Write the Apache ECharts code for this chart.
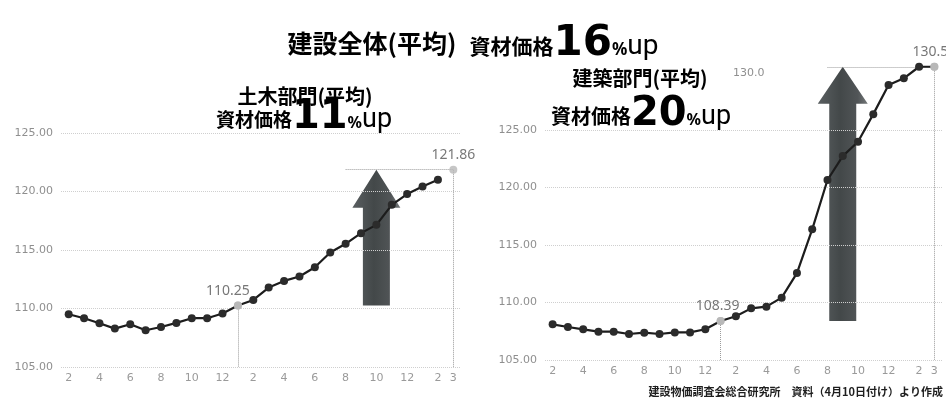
<!DOCTYPE html>
<html><head><meta charset="utf-8">
<script src="https://cdn.jsdelivr.net/npm/echarts@6/dist/echarts.min.js"></script>
<style>html,body{margin:0;padding:0;background:#fff}#c{width:946px;height:401px}</style>
</head><body><div id="c"></div>
<script>
// ---- data ----
const months = ['2','3','4','5','6','7','8','9','10','11','12','1','2','3','4','5','6','7','8','9','10','11','12','1','2','3'];
const yTicks = [105, 110, 115, 120, 125];
const civilValues = [109.51,109.17,108.74,108.28,108.65,108.14,108.42,108.77,109.17,109.17,109.57,110.25,110.73,111.79,112.36,112.73,113.53,114.79,115.53,116.44,117.15,118.86,119.78,120.43,121.00,121.86];
const archValues  = [108.10,107.87,107.67,107.46,107.46,107.26,107.38,107.26,107.40,107.40,107.67,108.39,108.80,109.49,109.64,110.42,112.56,116.36,120.65,122.73,123.98,126.38,128.91,129.49,130.50,130.50];
const startIdx = 11, endIdx = 25;

const chart = echarts.init(document.getElementById('c'));
const CJK = '"Noto Sans CJK JP", sans-serif';

function xAxis(gi){
  return {type:'category', gridIndex:gi, data:months, boundaryGap:true,
    axisLine:{show:false}, axisTick:{show:false}, splitLine:{show:false},
    axisLabel:{interval:0, formatter:(v,i)=> (i%2===0||i===months.length-1)?v:'', color:'#9a9a9a', fontSize:11, margin:6, fontFamily:'DejaVu Sans'}};
}
function yAxis(gi,max){
  return {type:'value', gridIndex:gi, min:105, max:max, interval:5,
    axisLine:{show:false}, axisTick:{show:false}, splitLine:{show:false},
    axisLabel:{formatter:v=> v<=125 ? v.toFixed(2) : '', color:'#8f8f8f', fontSize:11, margin:8, fontFamily:'DejaVu Sans', padding:[6,0,0,0]}};
}
const dot = {type:'dotted', color:'#9a9a9a', width:1};
function gridLines(){
  return yTicks.map(v=>({yAxis:v, lineStyle:{type:'dotted', color:'#cfcfcf', width:1}}));
}
function mainSeries(gi, vals, connectEnd){
  const d = vals.map((v,i)=>{
    if(i===endIdx && !connectEnd) return '-';
    if(i===startIdx || i===endIdx) return {value:v, itemStyle:{color:'#b8b8b8'}};
    return v;
  });
  return {type:'line', xAxisIndex:gi, yAxisIndex:gi, data:d, z:5, symbol:'circle', symbolSize:8,
    lineStyle:{color:'#1c1c1c', width:2.2}, itemStyle:{color:'#2b2b2b'}, silent:true, animation:false,
    markLine:{silent:true, symbol:'none', label:{show:false}, animation:false, data: gridLines()}};
}
function highlightSeries(gi, vals, hLines, startOffset){
  const si = startIdx, ei = endIdx;
  return {type:'scatter', xAxisIndex:gi, yAxisIndex:gi, z:6, symbolSize:8, animation:false,
    data:[{value:[si, vals[si]], label:{offset:[startOffset,0]}},{value:[ei, vals[ei]]}],
    itemStyle:{color:'#b8b8b8'},
    label:{show:true, position:'top', distance:4, formatter:p=>p.value[1].toFixed(2), color:'#555', fontSize:14, fontFamily:'"Noto Sans", sans-serif'},
    markLine:{silent:true, symbol:'none', label:{show:false}, animation:false, lineStyle:dot,
      data:[
        [{coord:[si, vals[si]]},{coord:[si,105]}],
        [{coord:[ei, vals[ei]]},{coord:[ei,105]}],
        [{coord:[hLines[0], vals[ei]]},{coord:[ei, vals[ei]]}],
        [{coord:[hLines[1], vals[si]]},{coord:[hLines[2], vals[si]]}]
      ]}};
}

chart.setOption({
  animation:false,
  grid:[{left:61, right:485, top:133, bottom:34}, {left:545, right:4, top:61, bottom:41}],
  xAxis:[xAxis(0), xAxis(1)],
  yAxis:[yAxis(0,125), yAxis(1,131)],
  series:[
    mainSeries(0, civilValues, false),
    highlightSeries(0, civilValues, [17.5, 19.4, 25.5], -10),
    mainSeries(1, archValues, true),
    highlightSeries(1, archValues, [17.5, 17.8, 25.8], -3)
  ]
});

function arrow(gi, xIdx, v0, v1, headHalf, shaftHalf, headH){
  const b = chart.convertToPixel({xAxisIndex:gi, yAxisIndex:gi}, [xIdx, v0]);
  const t = chart.convertToPixel({xAxisIndex:gi, yAxisIndex:gi}, [xIdx, v1]);
  const cx = b[0], yb = b[1], yt = t[1], yh = yt + headH;
  return {type:'polygon', z:1, silent:true,
    shape:{points:[[cx-shaftHalf,yb],[cx-shaftHalf,yh],[cx-headHalf,yh],[cx,yt],[cx+headHalf,yh],[cx+shaftHalf,yh],[cx+shaftHalf,yb]]},
    style:{fill:new echarts.graphic.LinearGradient(0,0,1,0,[
      {offset:0,color:'#5a5f61'},{offset:0.45,color:'#434849'},{offset:0.8,color:'#515557'},{offset:1,color:'#747879'}])}};
}

// baseline-aligned rich text line
const FONTS = {
  cjk:   {fam:CJK, k:0.38, ink:0.07, weight:'bold'},
  dv:    {fam:'"DejaVu Sans", sans-serif', k:0.26, ink:0, weight:'bold'},
  noto:  {fam:'"Noto Sans", sans-serif', k:0.285, ink:0, weight:'bold'},
  narrow:{fam:'"Liberation Sans Narrow", "Roboto", sans-serif', k:0.276, ink:0, weight:'normal'}
};
const D = 12, H = 60;
function richLine(x, baseline, parts){
  const rich = {}; let text = '';
  parts.forEach((p,i)=>{
    const f = FONTS[p.kind];
    const pb = Math.max(0, D + f.ink*p.size - p.size*(0.5 - f.k));
    rich['t'+i] = {fontSize:p.size, fontFamily:f.fam, fontWeight:f.weight, color:p.color,
      verticalAlign:'bottom', lineHeight:H, padding:[0, p.pr||0, pb, p.pl||0]};
    text += '{t'+i+'|'+p.t+'}';
  });
  return {type:'text', x:x, y:baseline + D, z:10, silent:true,
    style:{text:text, rich:rich, align:'center', verticalAlign:'bottom'}};
}
const DARK = '#1e1e1e', PCT = '#555';

chart.setOption({
  graphic:[
    arrow(0, 19.5, civilValues[startIdx], civilValues[endIdx], 24, 13.5, 38),
    arrow(1, 19.4, archValues[startIdx], archValues[endIdx], 25, 13.5, 37),
    richLine(473, 55, [
      {t:'建設全体(平均)', kind:'cjk', size:25, color:DARK, pr:13},
      {t:'資材価格', kind:'cjk', size:21, color:DARK},
      {t:'16', kind:'dv', size:42, color:'#858585'},
      {t:'%', kind:'noto', size:17, color:PCT},
      {t:'up', kind:'narrow', size:28, color:PCT}
    ]),
    richLine(305, 105, [{t:'土木部門(平均)', kind:'cjk', size:20, color:DARK}]),
    richLine(304, 128, [
      {t:'資材価格', kind:'cjk', size:19, color:DARK},
      {t:'11', kind:'dv', size:40, color:'#7a7a7a'},
      {t:'%', kind:'noto', size:16, color:PCT},
      {t:'up', kind:'narrow', size:27, color:PCT}
    ]),
    richLine(640, 87, [{t:'建築部門(平均)', kind:'cjk', size:20, color:DARK}]),
    richLine(641, 125, [
      {t:'資材価格', kind:'cjk', size:20, color:DARK},
      {t:'20', kind:'dv', size:40, color:'#6e6e6e'},
      {t:'%', kind:'noto', size:16, color:PCT},
      {t:'up', kind:'narrow', size:27, color:PCT}
    ]),
    {type:'text', x:733, y:68, z:10, style:{text:'130.0', font:'11px "DejaVu Sans", sans-serif', fill:'#8f8f8f'}},
    {type:'text', x:943, y:386, z:10, style:{text:'建設物価調査会総合研究所　資料（4月10日付け）より作成', font:'bold 11px '+CJK, fill:'#1e1e1e', align:'right'}}
  ]
});
</script></body></html>
